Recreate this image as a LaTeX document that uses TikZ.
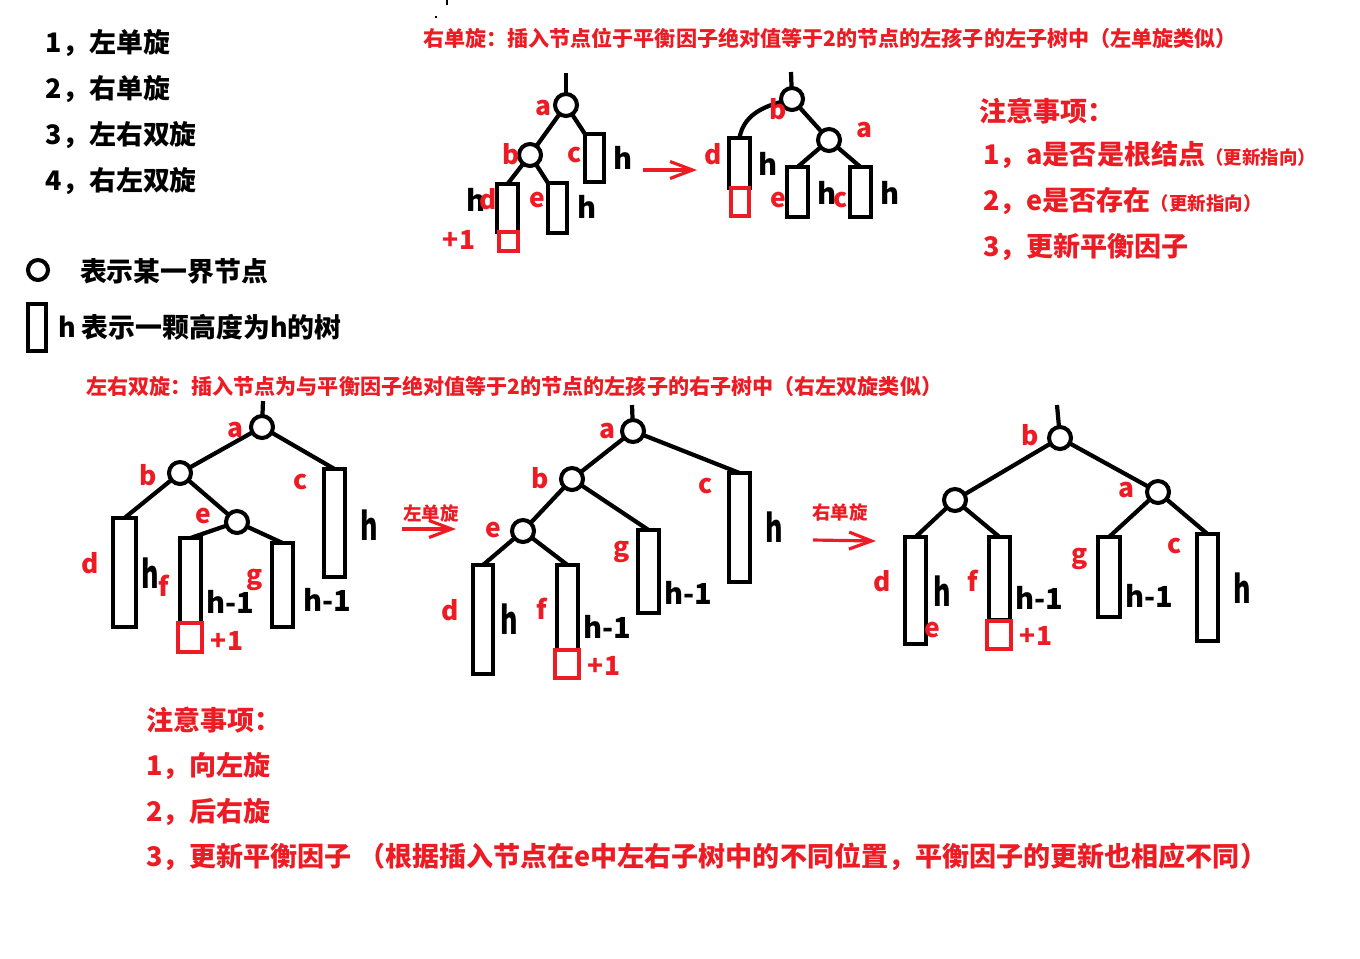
\documentclass[tikz,border=0pt]{standalone}
\usepackage{fontspec}
\setmainfont{Noto Sans CJK SC}
\usetikzlibrary{arrows.meta}
\definecolor{pred}{RGB}{237,28,36}
\newcommand\subtree[6][sub]{\node[#1, minimum width={(#4-#2)*0.02cm}, minimum height={(#5-#3)*0.02cm}] (#6) at ({(#2+#4)/2},{(#3+#5)/2}) {};}
\newcommand\tallh{\scalebox{0.8}[1.15]{h}}
\tikzset{
  every node/.style={inner sep=0pt, outer sep=0pt},
  vtx/.style={circle, draw, line width=2.3pt, minimum size=0.44cm},
  sub/.style={draw, line width=2.8pt, rectangle},
  ins/.style={draw=pred, line width=2.6pt, rectangle},
  link/.style={line width=2.4pt},
  lab/.style={text=pred, font=\bfseries\fontsize{15}{17}\selectfont},
  hl/.style={font=\bfseries\fontsize{16.5}{18}\selectfont},
  Hl/.style={font=\bfseries\fontsize{19}{21}\selectfont},
  rarrow/.style={draw=pred, line width=1.8pt, -{Straight Barb[length=0.45cm,width=0.34cm]}},
  bigtxt/.style={anchor=west, font=\bfseries\fontsize{15.3}{17}\selectfont},
  redtitle/.style={anchor=west, text=pred, font=\bfseries\fontsize{12}{14}\selectfont},
  rednote/.style={anchor=west, text=pred, font=\bfseries\fontsize{15.4}{17}\selectfont},
}
\begin{document}
\begin{tikzpicture}[x=0.02cm,y=-0.02cm]
\useasboundingbox[fill=white] (0,0) rectangle (1360,958);

% stray marks
\fill (446,0) rectangle (448,5);
\fill (435,16) rectangle (437,18);

% ---- list
\node[bigtxt] (l1) at (46,43) {1，左单旋};
\node[bigtxt] (l2) at (46,89) {2，右单旋};
\node[bigtxt] (l3) at (46,135) {3，左右双旋};
\node[bigtxt] (l4) at (46,181) {4，右左双旋};

% ---- legend
\node[vtx, minimum size=0.4cm] (lgc) at (38,270) {};
\node[bigtxt] (lgt1) at (80,271) {表示某一界节点};
\subtree{28}{304}{46}{351}{lgr}
\node[bigtxt] (lgt2) at (58,327) {h 表示一颗高度为h的树};

% ---- top title
\node[redtitle] (t1) at (423,38) {右单旋：插入节点位于平衡因子绝对值等于2的节点的左孩子的左子树中（左单旋类似）};

% ---- top right notes
\node[rednote] (n0) at (979,111) {注意事项：};
\node[rednote] (n1) at (983,155) {1，a是否是根结点{\fontsize{10.5}{12}\selectfont（更新指向）}};
\node[rednote] (n2) at (983,201) {2，e是否存在{\fontsize{10.5}{12}\selectfont（更新指向）}};
\node[rednote] (n3) at (983,247) {3，更新平衡因子};

% ---- top tree before
\coordinate (r1) at (566,73);
\node[vtx] (A1) at (566,105) {};
\node[vtx] (B1) at (530,155) {};
\subtree{585}{134}{604}{182}{c1}
\subtree{497}{184}{518}{232}{d1}
\subtree[ins]{499}{232}{518}{251}{i1}
\subtree{548}{183}{567}{233}{e1}
\draw[link] (r1) -- (A1);
\draw[link] (A1) -- (B1);
\draw[link] (A1) -- (c1.north west);
\draw[link] (B1) -- (d1.north);
\draw[link] (B1) -- (e1.north west);
\node[lab] (la1) at (543,108) {a};
\node[lab] (lb1) at (511,154) {b};
\node[lab] (lc1) at (575,155) {c};
\node[hl] (h11) at (623,158) {h};
\node[hl] (h12) at (476,200) {h};
\node[lab] (ld1) at (488,199) {d};
\node[lab] (le1) at (537,200) {e};
\node[hl] (h13) at (587,207) {h};
\node[lab] (p1) at (459,240) {+1};

% arrow
\coordinate (ar1s) at (643,170);
\coordinate (ar1e) at (697,170);
\draw[rarrow] (ar1s) -- (ar1e);

% ---- top tree after
\coordinate (r2) at (791,72);
\node[vtx] (B2) at (792,99) {};
\node[vtx] (A2) at (829,140) {};
\subtree{729}{138}{750}{188}{d2}
\subtree[ins]{731}{188}{749}{216}{i2}
\subtree{787}{167}{808}{217}{e2}
\subtree{850}{167}{871}{217}{c2}
\draw[link] (r2) -- (B2);
\draw[link] (B2) to[out=195,in=80] (d2.north);
\draw[link] (B2) -- (A2);
\draw[link] (A2) -- (e2.north);
\draw[link] (A2) -- (c2.north);
\node[lab] (lb2) at (778,109) {b};
\node[lab] (ld2) at (713,154) {d};
\node[hl] (h21) at (768,164) {h};
\node[lab] (la2) at (864,130) {a};
\node[lab] (le2) at (778,200) {e};
\node[hl] (h22) at (827,193) {h};
\node[lab] (lc2) at (841,200) {c};
\node[hl] (h23) at (890,193) {h};

% ---- second title
\node[redtitle] (t2) at (86,386) {左右双旋：插入节点为与平衡因子绝对值等于2的节点的左孩子的右子树中（右左双旋类似）};

% ---- bottom tree 1
\coordinate (r3) at (263,401);
\node[vtx] (A3) at (262,427) {};
\node[vtx] (B3) at (180,473) {};
\node[vtx] (E3) at (237,522) {};
\subtree{324}{469}{345}{577}{c3}
\subtree{113}{518}{136}{627}{d3}
\subtree{180}{538}{201}{623}{f3}
\subtree[ins]{178}{623}{202}{652}{i3}
\subtree{272}{543}{293}{627}{g3}
\draw[link] (r3) -- (A3);
\draw[link] (A3) -- (B3);
\draw[link] (A3) -- (c3.north);
\draw[link] (B3) -- (d3.north);
\draw[link] (B3) -- (E3);
\draw[link] (E3) -- (f3.north);
\draw[link] (E3) -- (g3.north);
\node[lab] (la3) at (235,430) {a};
\node[lab] (lb3) at (148,475) {b};
\node[lab] (lc3) at (301,482) {c};
\node[Hl] (h31) at (369,525) {\tallh};
\node[lab] (ld3) at (90,563) {d};
\node[Hl] (h32) at (150,573) {\tallh};
\node[lab] (lf3) at (164,586) {f};
\node[lab] (le3) at (203,516) {e};
\node[hl] (h33) at (230,602) {h-1};
\node[lab] (lg3) at (255,580) {g};
\node[hl] (h34) at (327,600) {h-1};
\node[lab] (p3) at (227,641) {+1};

% arrow 1
\node[text=pred, font=\bfseries\fontsize{10.5}{12}\selectfont] (al1) at (431,513) {左单旋};
\coordinate (ar2s) at (402,529);
\coordinate (ar2e) at (456,529);
\draw[rarrow] (ar2s) -- (ar2e);

% ---- bottom tree 2
\coordinate (r4) at (632,405);
\node[vtx] (A4) at (633,431) {};
\node[vtx] (B4) at (572,479) {};
\node[vtx] (E4) at (523,531) {};
\subtree{729}{473}{750}{582}{c4}
\subtree{638}{530}{659}{613}{g4}
\subtree{473}{565}{493}{674}{d4}
\subtree{557}{565}{578}{650}{f4}
\subtree[ins]{555}{650}{579}{678}{i4}
\draw[link] (r4) -- (A4);
\draw[link] (A4) -- (B4);
\draw[link] (A4) -- (c4.north);
\draw[link] (B4) -- (E4);
\draw[link] (B4) -- (g4.north);
\draw[link] (E4) -- (d4.north);
\draw[link] (E4) -- (f4.north);
\node[lab] (la4) at (607,431) {a};
\node[lab] (lb4) at (540,478) {b};
\node[lab] (lc4) at (706,486) {c};
\node[Hl] (h41) at (774,527) {\tallh};
\node[lab] (le4) at (493,530) {e};
\node[lab] (lg4) at (622,552) {g};
\node[hl] (h42) at (688,593) {h-1};
\node[lab] (ld4) at (450,610) {d};
\node[Hl] (h43) at (509,619) {\tallh};
\node[lab] (lf4) at (542,609) {f};
\node[hl] (h44) at (607,627) {h-1};
\node[lab] (p4) at (604,666) {+1};

% arrow 2
\node[text=pred, font=\bfseries\fontsize{10.5}{12}\selectfont] (al2) at (840,512) {右单旋};
\coordinate (ar3s) at (813,540);
\coordinate (ar3e) at (876,541);
\draw[rarrow] (ar3s) -- (ar3e);

% ---- bottom tree 3
\coordinate (r5) at (1057,405);
\node[vtx] (B5) at (1060,438) {};
\node[vtx] (L5) at (955,500) {};
\node[vtx] (A5) at (1158,492) {};
\subtree{905}{537}{926}{644}{d5}
\subtree{989}{537}{1010}{620}{f5}
\subtree[ins]{987}{621}{1011}{649}{i5}
\subtree{1098}{537}{1120}{617}{g5}
\subtree{1197}{534}{1218}{641}{c5}
\draw[link] (r5) -- (B5);
\draw[link] (B5) -- (L5);
\draw[link] (B5) -- (A5);
\draw[link] (L5) -- (d5.north);
\draw[link] (L5) -- (f5.north);
\draw[link] (A5) -- (g5.north);
\draw[link] (A5) -- (c5.north);
\node[lab] (lb5) at (1030,435) {b};
\node[lab] (la5) at (1126,490) {a};
\node[lab] (ld5) at (882,581) {d};
\node[Hl] (h51) at (942,591) {\tallh};
\node[lab] (le5) at (932,630) {e};
\node[lab] (lf5) at (973,581) {f};
\node[hl] (h52) at (1039,598) {h-1};
\node[lab] (p5) at (1036,636) {+1};
\node[lab] (lg5) at (1080,559) {g};
\node[hl] (h53) at (1149,596) {h-1};
\node[lab] (lc5) at (1175,546) {c};
\node[Hl] (h54) at (1242,588) {\tallh};

% ---- bottom notes
\node[rednote] (m0) at (146,720) {注意事项：};
\node[rednote] (m1) at (146,766) {1，向左旋};
\node[rednote] (m2) at (146,812) {2，后右旋};
\node[rednote] (m3) at (146,857) {3，更新平衡因子 （根据插入节点在e中左右子树中的不同位置，平衡因子的更新也相应不同）};
\end{tikzpicture}
\end{document}
